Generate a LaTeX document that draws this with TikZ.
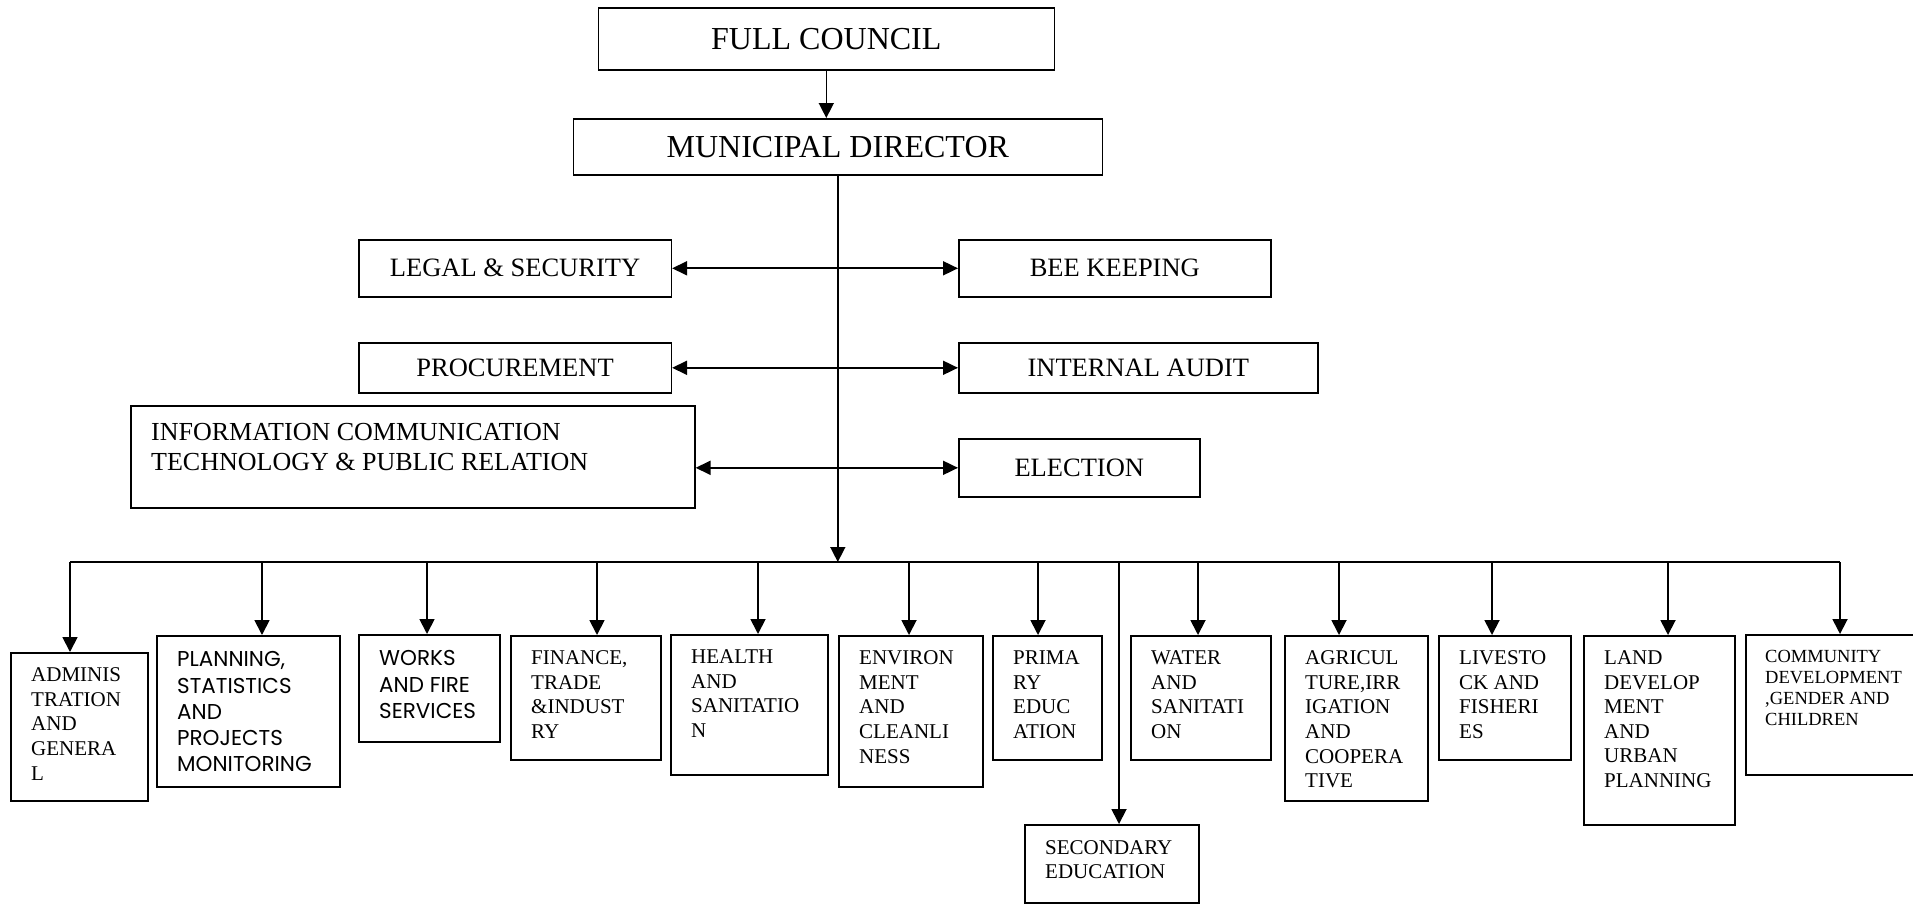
\documentclass[tikz,border=0pt]{standalone}
\usepackage{fontspec}
\setmainfont{Liberation Serif}
\newfontfamily\gothic{Poppins}
\usetikzlibrary{arrows.meta,calc}
\tikzset{
  box/.style={draw, line width=1.6pt, inner sep=0pt},
  ln/.style={line width=1.8pt},
  arr/.style={line width=1.8pt, -{Triangle[length=15pt,width=15pt]}},
  thinarr/.style={line width=1.5pt, -{Triangle[length=15pt,width=15pt]}},
  darr/.style={line width=1.8pt, {Triangle[length=15pt,width=14pt]}-{Triangle[length=15pt,width=14pt]}},
  btxt/.style={inner sep=0pt, align=left, anchor=north west, font=\fontsize{21}{24.6}\selectfont},
  stxt/.style={inner sep=0pt, align=left, anchor=north west, font=\gothic\fontsize{21.5}{26.2}\selectfont},
  ctxt/.style={inner sep=0pt, align=left, anchor=north west, font=\fontsize{18.5}{21}\selectfont},
  bigf/.style={font=\fontsize{32}{36}\selectfont},
  midf/.style={font=\fontsize{26.5}{30.5}\selectfont},
}
\newcommand\mybox[6][]{\node[box, anchor=north west, minimum width={#5-#3}, minimum height={#6-#4}, #1] (#2) at (#3,#4)}
\begin{document}
\begin{tikzpicture}[x=1pt, y=-1pt]
\useasboundingbox (0,0) rectangle (1913,903);

% top boxes
\mybox[bigf]{fc}{597.5}{7}{1053.5}{69} {FULL COUNCIL};
\mybox[bigf]{md}{572.5}{118}{1101.5}{174} {MUNICIPAL DIRECTOR};
\mybox[midf]{legal}{358}{239}{670.5}{296} {LEGAL \& SECURITY};
\mybox[midf]{bee}{958}{239}{1270}{296} {BEE KEEPING};
\mybox[midf]{proc}{358}{342}{670.5}{392} {PROCUREMENT};
\mybox[midf]{ia}{958}{342}{1317}{392} {INTERNAL AUDIT};
\mybox{ict}{130}{405}{694}{507} {};
\node[inner sep=0pt, align=left, anchor=north west, font=\fontsize{26}{30.5}\selectfont] (ict-t) at ([shift={(21,18)}]ict.north west) {INFORMATION COMMUNICATION\\TECHNOLOGY \& PUBLIC RELATION};
\mybox[midf]{elec}{958}{438}{1199}{496} {ELECTION};

% bottom boxes
\mybox{admin}{10}{652}{147}{800} {};
\mybox{plan}{156}{635}{339}{786} {};
\mybox{works}{358}{634}{499}{741} {};
\mybox{fin}{510}{635}{660}{759} {};
\mybox{health}{670}{634}{827}{774} {};
\mybox{env}{838}{635}{982}{786} {};
\mybox{prim}{992}{635}{1101}{759} {};
\mybox{sec}{1024}{824}{1198}{902} {};
\mybox{water}{1130}{635}{1270}{759} {};
\mybox{agri}{1284}{635}{1427}{800} {};
\mybox{live}{1438}{635}{1570}{759} {};
\mybox{land}{1583}{635}{1734}{824} {};
\mybox{comm}{1745}{634}{1925}{774} {};

\node[btxt] (admin-t) at ([shift={(21,15.5)}]admin.north west) {ADMINIS\\TRATION\\AND\\GENERA\\L};
\node[stxt] (plan-t) at ([shift={(21,16.5)}]plan.north west) {PLANNING,\\STATISTICS\\AND\\PROJECTS\\MONITORING};
\node[stxt] (works-t) at ([shift={(21,16.5)}]works.north west) {WORKS\\AND FIRE\\SERVICES};
\node[btxt] (fin-t) at ([shift={(21,15.5)}]fin.north west) {FINANCE,\\TRADE\\\&INDUST\\RY};
\node[btxt] (health-t) at ([shift={(21,15.5)}]health.north west) {HEALTH\\AND\\SANITATIO\\N};
\node[btxt] (env-t) at ([shift={(21,15.5)}]env.north west) {ENVIRON\\MENT\\AND\\CLEANLI\\NESS};
\node[btxt] (prim-t) at ([shift={(21,15.5)}]prim.north west) {PRIMA\\RY\\EDUC\\ATION};
\node[btxt] (sec-t) at ([shift={(21,16)}]sec.north west) {SECONDARY\\EDUCATION};
\node[btxt] (water-t) at ([shift={(21,15.5)}]water.north west) {WATER\\AND\\SANITATI\\ON};
\node[btxt] (agri-t) at ([shift={(21,15.5)}]agri.north west) {AGRICUL\\TURE,IRR\\IGATION\\AND\\COOPERA\\TIVE};
\node[btxt] (live-t) at ([shift={(21,15.5)}]live.north west) {LIVESTO\\CK AND\\FISHERI\\ES};
\node[btxt] (land-t) at ([shift={(21,15.5)}]land.north west) {LAND\\DEVELOP\\MENT\\AND\\URBAN\\PLANNING};
\node[ctxt] (comm-t) at ([shift={(20,16.5)}]comm.north west) {COMMUNITY\\DEVELOPMENT\\,GENDER AND\\CHILDREN};

% connectors at top
\draw[thinarr] (fc.south) -- (fc.south |- md.north);
\coordinate (b-admin) at (70,562);
\coordinate (b-plan) at (262,562);
\coordinate (b-works) at (427,562);
\coordinate (b-fin) at (597,562);
\coordinate (b-health) at (758,562);
\coordinate (b-env) at (909,562);
\coordinate (b-prim) at (1038,562);
\coordinate (b-sec) at (1119,562);
\coordinate (b-water) at (1198,562);
\coordinate (b-agri) at (1339,562);
\coordinate (b-live) at (1492,562);
\coordinate (b-land) at (1668,562);
\coordinate (b-comm) at (1840,562);

\draw[line width=1.5pt, -{Triangle[length=15pt,width=15pt]}] (md.south) -- (md.south |- b-admin);
\draw[darr] (legal.east) -- (legal.east -| bee.west);
\draw[darr] (proc.east) -- (proc.east -| ia.west);
\draw[darr] (elec.west -| ict.east) -- (elec.west);

% bus
\draw[ln] (b-admin) -- (b-comm);
\foreach \n in {admin,plan,works,fin,health,env,prim,sec,water,agri,live,land,comm}
  \draw[arr] (b-\n) -- (b-\n |- \n.north);
\end{tikzpicture}
\end{document}
